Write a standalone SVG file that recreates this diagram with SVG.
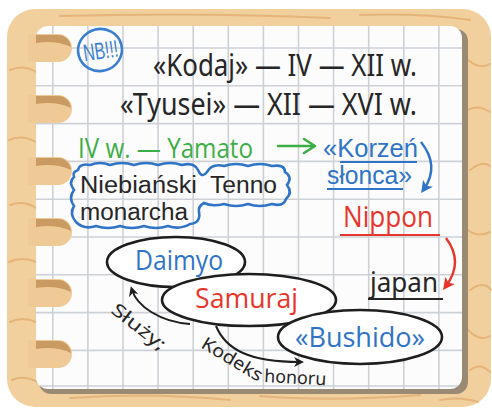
<svg xmlns="http://www.w3.org/2000/svg" width="492" height="409" viewBox="0 0 492 409">
<style>
.grain{fill:none;stroke:#e0a86c;stroke-width:2;stroke-linecap:round;opacity:.7}
.grid{stroke:#cdd1d6;stroke-width:1.6}
.blk{font-family:"Noto Sans","Open Sans",sans-serif;fill:#262626}
.lib{font-family:"Liberation Sans",Arial,sans-serif}
.hand{font-family:"Open Sans","Noto Sans",sans-serif}
.blue{fill:#2f74c6}
.red{fill:#e8352b}
.green{fill:#3cae46}
.ell{fill:#fff;stroke:#1e1e1e;stroke-width:2.6}
.con{fill:none;stroke:#1e1e1e;stroke-width:2}
.ring{fill:#efca96}
.ringtop{fill:#c99a62}
</style>
<defs>
<clipPath id="pc"><rect x="36" y="26" width="426" height="363" rx="12"/></clipPath>
<marker id="ahK" markerWidth="10" markerHeight="10" refX="6" refY="5" orient="auto" markerUnits="userSpaceOnUse"><path d="M0,0 L10,5 L0,10 L3,5 Z" fill="#1e1e1e"/></marker>
<marker id="ahB" markerWidth="12" markerHeight="12" refX="7" refY="6" orient="auto" markerUnits="userSpaceOnUse"><path d="M0,0 L12,6 L0,12 L3,6 Z" fill="#2f74c6"/></marker>
<marker id="ahR" markerWidth="12" markerHeight="12" refX="7" refY="6" orient="auto" markerUnits="userSpaceOnUse"><path d="M0,0 L12,6 L0,12 L3,6 Z" fill="#e8352b"/></marker>
</defs>
<g id="frame">
<rect x="7" y="9" width="484" height="398" rx="28" fill="#f1d09d"/>
<path class="grain" d="M10,70 Q24,64 36,72 M9,140 Q22,134 36,142 M10,205 Q24,200 36,208 M9,262 Q22,256 36,262 M10,322 Q22,316 36,322 M12,380 Q30,372 52,392"/>
<path class="grain" d="M468,60 Q480,70 490,64 M468,110 Q478,104 490,112 M470,170 Q482,160 490,166 M468,230 Q478,238 490,232 M470,290 Q484,280 491,290 M468,330 Q480,342 490,336 M470,370 Q480,362 490,372"/>
<path class="grain" d="M70,398 Q150,392 230,400 M260,396 Q330,402 420,395 M440,400 Q460,396 478,402 M60,16 Q200,12 330,18 M360,15 Q420,13 470,20"/>
<rect x="39" y="29" width="429" height="365" rx="12" fill="#9a8a74"/>
<rect x="36" y="26" width="426" height="363" rx="12" fill="#fcfcfc"/>
<g clip-path="url(#pc)" class="grid">
<line x1="52.8" y1="20" x2="52.8" y2="395"/><line x1="87.9" y1="20" x2="87.9" y2="395"/><line x1="123" y1="20" x2="123" y2="395"/><line x1="158.1" y1="20" x2="158.1" y2="395"/><line x1="193.2" y1="20" x2="193.2" y2="395"/><line x1="228.3" y1="20" x2="228.3" y2="395"/><line x1="263.4" y1="20" x2="263.4" y2="395"/><line x1="298.5" y1="20" x2="298.5" y2="395"/><line x1="333.6" y1="20" x2="333.6" y2="395"/><line x1="368.7" y1="20" x2="368.7" y2="395"/><line x1="403.8" y1="20" x2="403.8" y2="395"/><line x1="438.9" y1="20" x2="438.9" y2="395"/>
<line x1="30" y1="48" x2="470" y2="48"/><line x1="30" y1="85.8" x2="470" y2="85.8"/><line x1="30" y1="123.6" x2="470" y2="123.6"/><line x1="30" y1="161.4" x2="470" y2="161.4"/><line x1="30" y1="199.2" x2="470" y2="199.2"/><line x1="30" y1="237" x2="470" y2="237"/><line x1="30" y1="274.8" x2="470" y2="274.8"/><line x1="30" y1="312.6" x2="470" y2="312.6"/><line x1="30" y1="350.4" x2="470" y2="350.4"/><line x1="30" y1="386" x2="470" y2="386"/>
</g>
<g id="rings">
<g transform="translate(0,48)"><path class="ring" d="M28,-14 H58 A14,14 0 0 1 58,14 H28 Z"/><path class="ringtop" d="M36,-13 H58 A13,13 0 0 1 71,-1 Q56,-8 36,-5 Z"/></g>
<g transform="translate(0,109)"><path class="ring" d="M28,-14 H58 A14,14 0 0 1 58,14 H28 Z"/><path class="ringtop" d="M36,-13 H58 A13,13 0 0 1 71,-1 Q56,-8 36,-5 Z"/></g>
<g transform="translate(0,171)"><path class="ring" d="M28,-14 H58 A14,14 0 0 1 58,14 H28 Z"/><path class="ringtop" d="M36,-13 H58 A13,13 0 0 1 71,-1 Q56,-8 36,-5 Z"/></g>
<g transform="translate(0,232)"><path class="ring" d="M28,-14 H58 A14,14 0 0 1 58,14 H28 Z"/><path class="ringtop" d="M36,-13 H58 A13,13 0 0 1 71,-1 Q56,-8 36,-5 Z"/></g>
<g transform="translate(0,293)"><path class="ring" d="M28,-14 H58 A14,14 0 0 1 58,14 H28 Z"/><path class="ringtop" d="M36,-13 H58 A13,13 0 0 1 71,-1 Q56,-8 36,-5 Z"/></g>
<g transform="translate(0,354)"><path class="ring" d="M28,-14 H58 A14,14 0 0 1 58,14 H28 Z"/><path class="ringtop" d="M36,-13 H58 A13,13 0 0 1 71,-1 Q56,-8 36,-5 Z"/></g>
</g>
</g>
<g id="nb">
<ellipse cx="100" cy="50" rx="22" ry="21" fill="none" stroke="#3a7fd0" stroke-width="2.6" transform="rotate(-15 100 50)"/>
<text x="83" y="59" class="lib" font-size="24" fill="#3a7fd0" textLength="35" lengthAdjust="spacingAndGlyphs" transform="rotate(-8 100 50)">NB!!!</text>
</g>
<g id="kodaj"><text x="153" y="76" class="blk" font-size="30" textLength="264" lengthAdjust="spacingAndGlyphs">«Kodaj» — IV — XII w.</text></g>
<g id="tyusei"><text x="120" y="115" class="blk" font-size="30" textLength="297" lengthAdjust="spacingAndGlyphs">«Tyusei» — XII — XVI w.</text></g>
<g id="yamato"><text x="78" y="158" class="hand green" font-size="28" textLength="175" lengthAdjust="spacingAndGlyphs">IV w. — Yamato</text></g>
<g id="korzen">
<text x="323" y="157" class="lib blue" font-size="25" textLength="95" lengthAdjust="spacingAndGlyphs">«Korzeń</text>
<text x="327" y="184" class="lib blue" font-size="25" textLength="85" lengthAdjust="spacingAndGlyphs">słonca»</text>
<path d="M340,162 H417 M327,189 H403" stroke="#2f74c6" stroke-width="2" fill="none"/>
</g>
<g id="tenno">
<path d="M78,170 Q80,163 90,165 Q100,161 110,165 Q122,161 134,165 Q146,161 158,165 Q170,161 182,165 Q194,162 198,170 Q202,179 207,172 Q212,163 224,166 Q236,162 248,166 Q260,162 272,166 Q285,164 285,172 Q293,177 287,185 Q293,193 286,199 Q284,207 272,204 Q260,208 248,204 Q236,208 224,204 Q212,207 204,203 Q198,206 199,212 Q201,223 190,224 Q180,230 168,226 Q156,230 144,226 Q132,230 120,226 Q108,230 96,226 Q84,230 76,222 Q69,214 74,206 Q68,198 74,190 Q68,182 74,177 Q72,172 78,170 Z" fill="none" stroke="#2f74c6" stroke-width="2.6"/>
<text x="80" y="193" class="lib" fill="#262626" font-size="23" textLength="117" lengthAdjust="spacingAndGlyphs">Niebiański</text>
<text x="210" y="193" class="lib" fill="#262626" font-size="23" textLength="67" lengthAdjust="spacingAndGlyphs">Tenno</text>
<text x="80" y="220" class="lib" fill="#262626" font-size="23" textLength="108" lengthAdjust="spacingAndGlyphs">monarcha</text>
</g>
<g id="nippon">
<text x="343" y="227" class="hand red" font-size="30" textLength="90" lengthAdjust="spacingAndGlyphs">Nippon</text>
<path d="M340,235 H440" stroke="#e8352b" stroke-width="2.2"/>
</g>
<g id="japan">
<text x="370" y="292" class="blk" font-size="27" textLength="68" lengthAdjust="spacingAndGlyphs">japan</text>
<path d="M368,299 H443" stroke="#262626" stroke-width="2.2"/>
</g>
<g id="connectors">
<path d="M278,146 H314 M304,139 L315,146 L304,153" fill="none" stroke="#3cae46" stroke-width="2.6" stroke-linecap="round" stroke-linejoin="round"/>
<path d="M421,142 Q440,166 424,189" fill="none" stroke="#2f74c6" stroke-width="2.4" marker-end="url(#ahB)"/>
<path d="M446,238 Q464,262 446,286" fill="none" stroke="#e8352b" stroke-width="2.4" marker-end="url(#ahR)"/>
</g>
<g id="daimyo">
<ellipse class="ell" cx="176" cy="262" rx="69" ry="25"/>
<text x="135" y="270" class="hand blue" font-size="27" textLength="88" lengthAdjust="spacingAndGlyphs">Daimyo</text>
</g>
<g id="samuraj">
<ellipse class="ell" cx="249" cy="300" rx="87" ry="26"/>
<text x="195" y="308" class="hand red" font-size="27" textLength="103" lengthAdjust="spacingAndGlyphs">Samuraj</text>
</g>
<g id="bushido">
<ellipse class="ell" cx="360" cy="337" rx="82" ry="27"/>
<text x="295" y="347" class="hand blue" font-size="27" textLength="130" lengthAdjust="spacingAndGlyphs">«Bushido»</text>
</g>
<g id="edges">
<path class="con" d="M190,324 C160,322 137,306 132,290" marker-end="url(#ahK)"/>
<text x="110" y="312" class="blk" font-size="18" textLength="64" lengthAdjust="spacingAndGlyphs" transform="rotate(38 110 312)">Służy;</text>
<path class="con" d="M216,326 C226,350 250,362 300,362" marker-end="url(#ahK)"/>
<text x="200" y="347" class="blk" font-size="18" textLength="68" lengthAdjust="spacingAndGlyphs" transform="rotate(31 200 347)">Kodeks</text>
<text x="264" y="382" class="blk" font-size="18" textLength="62" lengthAdjust="spacingAndGlyphs" transform="rotate(3 264 382)">honoru</text>
</g>
</svg>
